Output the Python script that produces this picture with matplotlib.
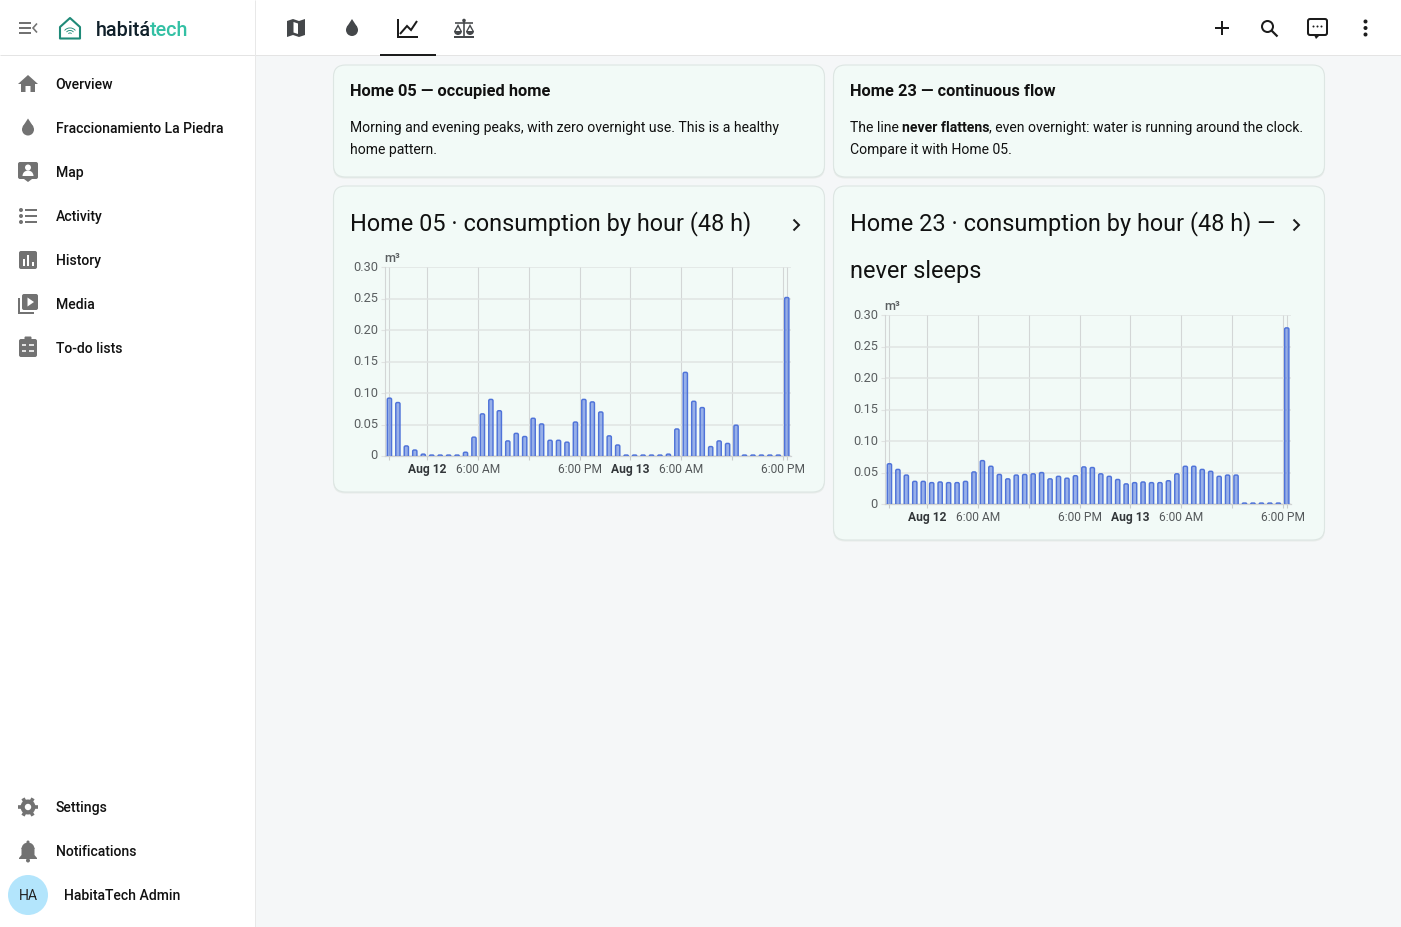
import matplotlib
matplotlib.use("Agg")
import matplotlib.pyplot as plt
import numpy as np
from matplotlib.patches import Rectangle, Circle, Polygon, FancyBboxPatch, Wedge
from matplotlib.lines import Line2D
from matplotlib.transforms import ScaledTranslation

W, H = 1401, 927
plt.rcParams['font.family'] = ['Roboto', 'DejaVu Sans']

# data, one bar per hour, 48 h
home05 = [0.092, 0.085, 0.016, 0.0095, 0.003, 0.0015, 0.0015, 0.0015, 0.0015, 0.006, 0.030, 0.067,
          0.090, 0.072, 0.024, 0.036, 0.031, 0.060, 0.051, 0.025, 0.025, 0.022, 0.054, 0.090,
          0.086, 0.070, 0.032, 0.0175, 0.0015, 0.0015, 0.0015, 0.0015, 0.0015, 0.003, 0.043, 0.133,
          0.087, 0.077, 0.015, 0.024, 0.020, 0.049, 0.0015, 0.0015, 0.0015, 0.0015, 0.0015, 0.252]
home23 = [0.064, 0.055, 0.046, 0.036, 0.036, 0.034, 0.035, 0.034, 0.034, 0.036, 0.051, 0.069,
          0.060, 0.047, 0.040, 0.046, 0.047, 0.048, 0.050, 0.040, 0.044, 0.041, 0.045, 0.059,
          0.058, 0.048, 0.044, 0.039, 0.032, 0.034, 0.035, 0.034, 0.034, 0.037, 0.048, 0.060,
          0.060, 0.055, 0.052, 0.044, 0.046, 0.046, 0.0015, 0.0015, 0.0015, 0.0015, 0.0015, 0.280]
y_ticks = [0, 0.05, 0.10, 0.15, 0.20, 0.25, 0.30]
y_labels = ['0', '0.05', '0.10', '0.15', '0.20', '0.25', '0.30']
x_ticks = [-4.5, 0, 6, 12, 18, 24, 30, 36, 42, 42.5]
x_labels = ['', 'Aug 12', '6:00 AM', '', '6:00 PM', 'Aug 13', '6:00 AM', '', '6:00 PM', '']
menu_top = ['Overview', 'Fraccionamiento La Piedra', 'Map', 'Activity', 'History', 'Media', 'To-do lists']
menu_bottom = ['Settings', 'Notifications']

INK = '#111111'
ICON = '#727272'
DARK = '#44474a'
CARD = '#f2faf7'
TEAL = '#1f8a78'


def px(size):
    return size * 0.72


fig = plt.figure(figsize=(W / 100, H / 100), dpi=100, facecolor='#f5f7f8')
bg = fig.add_axes([0, 0, 1, 1])
bg.set_xlim(0, W)
bg.set_ylim(H, 0)
bg.axis('off')


def txt(x, y, s, size=14, weight='normal', color=INK, ha='left'):
    return bg.text(x, y, s, fontsize=px(size), fontweight=weight, color=color, ha=ha, va='baseline')


def line(xs, ys, color=ICON, lw=2.0, cap='butt'):
    bg.add_line(Line2D(xs, ys, color=color, lw=lw * 0.72, solid_capstyle=cap, solid_joinstyle='miter', zorder=4))


def poly(pts, color=ICON, z=3):
    bg.add_patch(Polygon(pts, closed=True, fc=color, ec='none', zorder=z))


def rrect(x, y, w, h, r, fc, ec='none', lw=0, z=2):
    bg.add_patch(FancyBboxPatch((x + r, y + r), w - 2 * r, h - 2 * r, boxstyle='round,pad=%f,rounding_size=%f' % (r, r),
                                fc=fc, ec=ec, lw=lw, zorder=z))


def drop(x, y, color=ICON):
    bg.add_patch(Circle((x, y + 2.5), 6, fc=color, ec='none', zorder=3))
    poly([(x, y - 8.5), (x - 5.4, y - 0.2), (x + 5.4, y - 0.2)], color)


# frame
bg.add_patch(Rectangle((0, 0), 255, H, fc='white', ec='none', zorder=1))
bg.add_patch(Rectangle((0, 0), W, 55, fc='white', ec='none', zorder=1))
line([0, W], [55, 55], '#e4e4e4', 1)
line([255, 255], [0, H], '#e8e8e8', 1)

# logo
line([19, 31], [23, 23], ICON, 2)
line([19, 31], [28, 28], ICON, 2)
line([19, 31], [33, 33], ICON, 2)
line([37, 33, 37], [23.5, 28, 32.5], ICON, 1.6)
bg.add_patch(Polygon([(60, 27), (70, 18), (80, 27), (80, 38.5), (60, 38.5)], closed=True, fc='none', ec=TEAL, lw=1.5,
                     joinstyle='round', zorder=3))
for r in (7.5, 5, 2.5):
    bg.add_patch(Wedge((70, 35), r, 220, 320, width=0.9, fc=TEAL, ec='none', zorder=3))
t = txt(96, 36, 'habitá', 19.8, 'medium', '#10202a')
fig.canvas.draw()
x1 = bg.transData.inverted().transform(t.get_window_extent())[1][0]
txt(x1 - 1, 36, 'tech', 19.8, 'medium', '#33c0a4')

# sidebar
for i, name in enumerate(menu_top):
    txt(55.7, 89 + 44 * i, name, 14, 'medium')
for i, name in enumerate(menu_bottom):
    txt(55.7, 812 + 44 * i, name, 14, 'medium')
txt(63.7, 900, 'HabitaTech Admin', 14, 'medium')
bg.add_patch(Circle((28, 895), 20, fc='#b3e5fc', ec='none', zorder=3))
txt(28, 900, 'HA', 14, 'normal', '#222222', ha='center').set_zorder(4)

# home
poly([(28, 75), (38, 84), (35, 84), (35, 92), (30.5, 92), (30.5, 86), (25.5, 86), (25.5, 92), (21, 92), (21, 84), (18, 84)])
drop(28, 127)
# map pin box
rrect(18, 162, 20, 17, 2, ICON, z=3)
poly([(24, 179), (32, 179), (28, 182)])
bg.add_patch(Circle((28, 167.5), 3, fc='white', ec='none', zorder=4))
bg.add_patch(Wedge((28, 176), 5.5, 180, 360, fc='white', ec='none', zorder=4))
# activity
for yy in (210, 216, 222):
    line([25, 37], [yy, yy], ICON, 2)
    bg.add_patch(Circle((21, yy), 2, fc=ICON, ec='none', zorder=3))
# history
rrect(19, 251, 18, 18, 2, ICON, z=3)
for xx, top in ((23.5, 259), (28, 255), (32.5, 262)):
    line([xx, xx], [top, 266], 'white', 2)
# media
rrect(22, 294, 16, 16, 2, ICON, z=3)
poly([(27.5, 297.5), (34, 302), (27.5, 306.5)], 'white', 4)
line([19, 19, 34], [298, 313, 313], ICON, 2)
# to-do
rrect(19, 339, 18, 18, 2, ICON, z=3)
rrect(24.5, 336.5, 7, 4, 1, ICON, z=3)
for yy in (345, 351):
    line([29, 34], [yy, yy], 'white', 1.6)
    line([22, 26], [yy, yy], 'white', 1.6)
# settings
bg.add_patch(Circle((28, 807), 7.5, fc=ICON, ec='none', zorder=3))
for a in np.arange(0, 360, 60):
    ca, sa = np.cos(np.radians(a)), np.sin(np.radians(a))
    bg.add_line(Line2D([28 + 6 * ca, 28 + 10 * ca], [807 + 6 * sa, 807 + 10 * sa], color=ICON, lw=2.6, zorder=3,
                       solid_capstyle='butt'))
bg.add_patch(Circle((28, 807), 3.2, fc='white', ec='none', zorder=4))
# bell
bg.add_patch(Wedge((28, 849), 6.5, 180, 360, fc=ICON, ec='none', zorder=3))
poly([(21.5, 848), (34.5, 848), (34.5, 855), (37, 858), (37, 859), (19, 859), (19, 858), (21.5, 855)])
bg.add_patch(Circle((28, 842), 1.5, fc=ICON, ec='none', zorder=3))
bg.add_patch(Circle((28, 860.5), 2, fc=ICON, ec='none', zorder=3))

# top tabs
poly([(287, 21), (293, 19), (299, 21), (305, 19), (305, 35), (299, 37), (293, 35), (287, 37)], DARK)
poly([(293.5, 22), (298, 23.5), (298, 34), (293.5, 32.5)], 'white', 4)
drop(352, 27.5, DARK)
line([398, 398, 418], [19, 37, 37], '#1c1c1c', 2)
line([400, 407, 411, 417], [34, 26, 30, 21], '#1c1c1c', 2)
line([380, 436], [55, 55], '#1c1c1c', 2)
line([454, 474], [37, 37], DARK, 2)
line([464, 464], [20, 36], DARK, 1.6)
line([455, 473], [22.5, 22.5], DARK, 1.6)
bg.add_patch(Circle((464, 20.5), 1.8, fc=DARK, ec='none', zorder=3))
for xx in (458, 470):
    poly([(xx, 24), (xx - 3.8, 31), (xx - 2.3, 31), (xx, 27), (xx + 2.3, 31), (xx + 3.8, 31)], DARK)
    bg.add_patch(Wedge((xx, 31), 4, 0, 180, fc=DARK, ec='none', zorder=3))

# top right actions
line([1221.5, 1221.5], [21, 35], '#1c1c1c', 2)
line([1214.5, 1228.5], [28, 28], '#1c1c1c', 2)
bg.add_patch(Circle((1267.5, 26.5), 5.5, fc='none', ec='#1c1c1c', lw=1.45, zorder=3))
line([1271.5, 1277.5], [30.5, 36.5], '#1c1c1c', 2.2)
rrect(1308, 19, 19, 16, 2, 'white', '#1c1c1c', 1.45, z=3)
poly([(1314, 35), (1320, 35), (1316, 39)], '#1c1c1c')
for xx in (1313.5, 1317.5, 1321.5):
    bg.add_patch(Circle((xx, 26.5), 1, fc='#1c1c1c', ec='none', zorder=4))
for yy in (21.5, 28, 34.5):
    bg.add_patch(Circle((1365.5, yy), 2, fc='#1c1c1c', ec='none', zorder=3))


def card(x, y, w, h):
    rrect(x - 0.5, y + 0.5, w + 1, h + 1, 12, '#e8ecea', z=1.5)
    rrect(x, y, w, h, 12, CARD, '#dde6e3', 0.8)


card(333.5, 65, 491, 112)
card(833.5, 65, 491, 112)
card(333.5, 186, 491, 306)
card(833.5, 186, 491, 354)

txt(349.6, 96, 'Home 05 — occupied home', 16.4, 'bold')
txt(349.6, 132, 'Morning and evening peaks, with zero overnight use. This is a healthy', 13.97)
txt(349.6, 154, 'home pattern.', 13.97)
txt(849.6, 96, 'Home 23 — continuous flow', 16.4, 'bold')

# mixed weight line, next piece starts where the previous one ended
xpos = 849.6
for piece, wt in (('The line ', 'normal'), ('never flattens', 'bold'), (', even overnight: water is running around the clock.', 'normal')):
    t = txt(xpos, 132, piece, 13.97, wt)
    fig.canvas.draw()
    xpos = bg.transData.inverted().transform(t.get_window_extent())[1][0]
txt(849.6, 154, 'Compare it with Home 05.', 13.97)

txt(349.6, 230, 'Home 05 · consumption by hour (48 h)', 23.45)
txt(849.6, 230, 'Home 23 · consumption by hour (48 h) —', 23.45)
txt(849.6, 278, 'never sleeps', 23.45)
line([793.5, 799, 793.5], [219.5, 225, 230.5], '#1c1c1c', 2)
line([1293.5, 1299, 1293.5], [219.5, 225, 230.5], '#1c1c1c', 2)


def chart(values, left, top, right, bottom):
    ax = fig.add_axes([left / W, 1 - bottom / H, (right - left) / W, (bottom - top) / H], zorder=5)
    ax.patch.set_alpha(0)
    ax.set_xlim(-5, 43)
    ax.set_ylim(0, 0.30)
    hours = np.arange(len(values)) - 4.5
    bars = ax.bar(hours, values, width=0.5, zorder=3)
    # rounded top corners: swap each bar rectangle for a rounded box of the same size
    x_per_px = 48 / (right - left)
    y_per_px = 0.30 / (bottom - top)
    for b in bars:
        b.set_visible(False)
        r = min(1.4, 0.6 + b.get_height() / y_per_px * 0.4)
        ax.add_patch(FancyBboxPatch((b.get_x(), -0.004), b.get_width(), b.get_height() + 0.004,
                                    boxstyle='round,pad=0,rounding_size=%f' % (r * x_per_px),
                                    mutation_aspect=y_per_px / x_per_px,
                                    fc=(0.30, 0.45, 0.87, 0.55), ec='#4f73d9', lw=1.05, zorder=3))
    ax.set_yticks(y_ticks, y_labels)
    ax.set_xticks(x_ticks, x_labels)
    ax.tick_params(axis='y', length=3.2, width=0.8, color='#e0e3e2', labelsize=px(12.7), labelcolor='#5a5e60', pad=2)
    ax.tick_params(axis='x', length=3.2, width=0.8, color='#c9cccb', labelsize=px(12), labelcolor='#55595b', pad=1.6)
    up = ScaledTranslation(0, 1.5 / 100, fig.dpi_scale_trans)
    for lab in ax.get_yticklabels():
        lab.set_transform(lab.get_transform() + up)
    for lab in ax.get_xticklabels():
        if lab.get_text().startswith('Aug'):
            lab.set_fontweight('bold')
            lab.set_color('#33373a')
    ax.grid(axis='y', color='#e0e4e3', lw=1.1, zorder=0)
    ax.grid(axis='x', color='#d3d6d6', lw=0.8, zorder=0)
    ax.set_axisbelow(True)
    for side in ('top', 'right'):
        ax.spines[side].set_visible(False)
    ax.spines['left'].set_color('#d3d6d6')
    ax.spines['left'].set_linewidth(0.8)
    ax.spines['bottom'].set_color('#cfd2d1')
    ax.spines['bottom'].set_linewidth(0.9)
    ax.text(-5.1, 0.3035, 'm³', fontsize=px(12.7), fontweight='medium', color='#5a5e60', va='bottom', ha='left')
    return ax


chart(home05, 385.2, 267.3, 791, 456)
chart(home23, 885.2, 315.3, 1291, 504)

fig.savefig('out.png', dpi=100, facecolor=fig.get_facecolor())
